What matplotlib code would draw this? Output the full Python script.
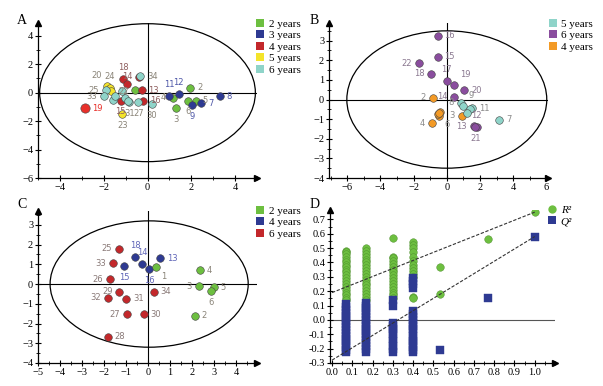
import matplotlib
matplotlib.use("Agg")
import matplotlib.pyplot as plt
from matplotlib.patches import Ellipse
from matplotlib.lines import Line2D
from matplotlib.ticker import MultipleLocator

# ---------------- DATA ----------------
COLORS = {"2 years": "#6dbf40", "3 years": "#2e3a92", "4 years": "#c3282b",
          "5 years": "#f4e42a", "6 years": "#8fd4c9"}
COLORS_B = {"5 years": "#8fd4c9", "6 years": "#8a4d9e", "4 years": "#f39a26"}
COLORS_C = {"2 years": "#6dbf40", "4 years": "#2e3a92", "6 years": "#c3282b"}

# Panel A
a_groups = ["2 years"]*6 + ["3 years"]*5 + ["4 years"]*7 + ["5 years"]*4 + ["6 years"]*11
a_ids = ["1", "2", "4", "3", "6", "5",
         "11", "12", "9", "7", "8",
         "14", "18", "17", "13", "16", "15", "19",
         "20", "24", "22", "23",
         "34", "25", "33", "28", "32", "29", "31", "27", "30", "21", "26"]
a_x = [-0.55, 1.95, 1.17, 1.29, 1.85, 2.20,
       0.98, 1.42, 2.05, 2.45, 3.29,
       -0.38, -1.10, -0.92, -0.27, -0.20, -1.23, -2.85,
       -1.85, -1.72, -1.66, -1.15,
       -0.32, -1.90, -1.98, -1.18, -1.56, -1.48, -0.83, -0.42, 0.20, -1.05, -0.90]
a_y = [0.21, 0.33, -0.36, -1.05, -0.55, -0.55,
       -0.26, -0.07, -0.86, -0.74, -0.26,
       1.12, 0.95, 0.64, 0.17, -0.55, -0.55, -1.10,
       0.50, 0.30, 0.10, -1.50,
       1.17, 0.17, -0.26, 0.12, -0.50, -0.26, -0.67, -0.67, -0.79, -0.35, -0.62]
a_pos = ["n", "r", "l", "b", "b", "r",
         "t", "t", "b", "r", "r",
         "l", "t", "n", "r", "r", "b", "r",
         "tl", "t", "r", "b",
         "r", "l", "l", "n", "n", "n", "b", "b", "b", "n", "n"]

# Panel B
b_groups = ["6 years"]*11 + ["4 years"]*7 + ["5 years"]*6
b_ids = ["16", "15", "22", "18", "17", "19", "20", "14", "13", "12", "21",
         "2", "3", "5", "1", "4", "6", "23",
         "8", "9", "11", "10", "24", "7"]
b_x = [-0.56, -0.56, -1.66, -0.94, 0.00, 0.46, 1.04, 0.46, 1.64, 1.80, 1.72,
       -0.84, 0.92, -0.40, -0.44, -0.92, -0.50, -0.45,
       0.84, 1.00, 1.52, 1.40, 1.20, 3.14]
b_y = [3.25, 2.17, 1.86, 1.32, 0.94, 0.75, 0.46, 0.15, -1.37, -1.38, -1.42,
       0.09, -0.82, -0.65, -0.82, -1.21, -0.75, -0.70,
       -0.17, -0.32, -0.44, -0.50, -0.68, -1.04]
b_pos = ["r", "r", "l", "l", "t", "tr", "r", "l", "l", "t", "b",
         "l", "l", "n", "n", "l", "br", "n",
         "l", "tr", "r", "n", "n", "r"]

# Panel C
c_groups = ["6 years"]*10 + ["4 years"]*5 + ["2 years"]*6
c_ids = ["25", "33", "26", "29", "32", "31", "27", "30", "34", "28",
         "18", "14", "15", "16", "13",
         "1", "4", "3", "5", "6", "2"]
c_x = [-1.33, -1.60, -1.74, -1.30, -1.83, -0.98, -0.97, -0.20, 0.26, -1.83,
       -0.58, -0.27, -1.08, 0.06, 0.53,
       0.35, 2.35, 2.32, 2.98, 2.86, 2.12]
c_y = [1.78, 1.05, 0.24, -0.39, -0.69, -0.75, -1.53, -1.54, -0.39, -2.68,
       1.39, 1.02, 0.92, 0.78, 1.31,
       0.88, 0.71, -0.10, -0.15, -0.36, -1.61]
c_pos = ["l", "l", "l", "l", "l", "r", "l", "r", "r", "r",
         "t", "t", "b", "b", "r",
         "br", "r", "l", "r", "b", "r"]

# Panel D (permutation test)
r2_x = [0.067]*20 + [0.167]*19 + [0.3]*17 + [0.4]*13 + [0.533]*2 + [0.767] + [1.0]
r2_y = [0.48, 0.47, 0.46, 0.44, 0.42, 0.40, 0.38, 0.37, 0.35, 0.33, 0.31, 0.29, 0.27, 0.25, 0.23, 0.21, 0.19, 0.17, 0.15, 0.14,
        0.50, 0.48, 0.46, 0.44, 0.42, 0.40, 0.38, 0.36, 0.34, 0.32, 0.30, 0.28, 0.26, 0.24, 0.22, 0.20, 0.18, 0.16, 0.14,
        0.57, 0.44, 0.43, 0.41, 0.39, 0.37, 0.35, 0.33, 0.31, 0.29, 0.27, 0.25, 0.23, 0.21, 0.19, 0.17, 0.15,
        0.54, 0.52, 0.50, 0.47, 0.44, 0.41, 0.38, 0.36, 0.34, 0.32, 0.30, 0.16, 0.15,
        0.37, 0.18, 0.56, 0.75]
q2_x = [0.067]*18 + [0.167]*18 + [0.3]*12 + [0.4]*19 + [0.533] + [0.767] + [1.0]
q2_y = [0.11, 0.09, 0.07, 0.05, 0.03, 0.01, -0.01, -0.03, -0.05, -0.07, -0.09, -0.11, -0.13, -0.15, -0.17, -0.19, -0.21, -0.22,
        0.12, 0.10, 0.08, 0.06, 0.04, 0.02, 0.00, -0.02, -0.04, -0.06, -0.08, -0.10, -0.12, -0.14, -0.16, -0.18, -0.20, -0.22,
        0.14, 0.10, -0.02, -0.04, -0.06, -0.08, -0.10, -0.13, -0.15, -0.18, -0.20, -0.22,
        0.29, 0.27, 0.25, 0.22, 0.06, 0.04, 0.02, 0.00, -0.02, -0.04, -0.06, -0.08, -0.11, -0.13, -0.15, -0.17, -0.19, -0.21, -0.22,
        -0.21, 0.15, 0.58]
r2_line = ([0.0, 1.0], [0.19, 0.75])
q2_line = ([0.0, 1.0], [-0.28, 0.58])

# ---------------- PLOT ----------------
SERIF = "Liberation Serif"
fig = plt.figure(figsize=(6.03, 3.86), dpi=100)
fig.patch.set_facecolor("white")

LABEL_COL = {"2 years": "#8a8478", "3 years": "#4f58a8", "4 years": "#8f6060",
             "5 years": "#8a8478", "6 years": "#8a8478"}
LABEL_COL_B = {"5 years": "#8a8a8a", "6 years": "#8a7890", "4 years": "#8a8a8a"}
LABEL_COL_C = {"2 years": "#8a8478", "4 years": "#6066b8", "6 years": "#8a7a78"}

OFF = {"r": (5, 0, "left", "center"), "l": (-5, 0, "right", "center"),
       "t": (0, 5, "center", "bottom"), "b": (0, -5, "center", "top"),
       "tl": (-4, 4, "right", "bottom"), "tr": (4, 4, "left", "bottom"),
       "br": (4, -4, "left", "top")}


def style_axes(ax, xlim, ylim, xmaj, xmin, ymaj, ymin):
    ax.set_xlim(*xlim)
    ax.set_ylim(*ylim)
    for s in ["top", "right"]:
        ax.spines[s].set_visible(False)
    for s in ["left", "bottom"]:
        ax.spines[s].set_linewidth(0.9)
    ax.xaxis.set_major_locator(MultipleLocator(xmaj))
    ax.xaxis.set_minor_locator(MultipleLocator(xmin))
    ax.yaxis.set_major_locator(MultipleLocator(ymaj))
    ax.yaxis.set_minor_locator(MultipleLocator(ymin))
    ax.tick_params(which="major", direction="inout", length=5, width=0.8,
                   labelsize=7.5, pad=1)
    ax.tick_params(which="minor", direction="inout", length=3, width=0.6)
    for lab in ax.get_xticklabels() + ax.get_yticklabels():
        lab.set_fontfamily(SERIF)
    ax.plot(1, 0, ">", color="black", ms=5, transform=ax.transAxes, clip_on=False)
    ax.plot(0, 1, "^", color="black", ms=5, transform=ax.transAxes, clip_on=False)
    ax.patch.set_alpha(0)


def scatter_panel(ax, groups, ids, xs, ys, pos, cmap, lcmap, special=None):
    for g, i, x, y, p in zip(groups, ids, xs, ys, pos):
        col = cmap[g]
        size = 30
        lc = lcmap[g]
        if special and i in special:
            col, size, lc = special[i], 45, special[i]
        ax.scatter([x], [y], s=size, color=col, edgecolor="#444444",
                   linewidth=0.4, zorder=3)
        if p != "n":
            dx, dy, ha, va = OFF[p]
            ax.annotate(i, (x, y), xytext=(dx, dy), textcoords="offset points",
                        ha=ha, va=va, fontsize=6, color=lc,
                        family="DejaVu Sans", zorder=4)


def legend_at(handles_labels, x, y, italic=False):
    handles = []
    labels = []
    for marker, col, lab in handles_labels:
        handles.append(Line2D([], [], marker=marker, color=col, linestyle="none",
                              markersize=6, markeredgewidth=0))
        labels.append(lab)
    leg = fig.legend(handles, labels, loc="upper left", bbox_to_anchor=(x, y),
                     frameon=False, borderpad=0, borderaxespad=0,
                     handlelength=0.8, handletextpad=0.4, labelspacing=0.15,
                     prop={"family": SERIF, "size": 8,
                           "style": "italic" if italic else "normal"})
    return leg


# ---- Panel A
axA = fig.add_axes([38/603, (386-178)/386, 219/603, 155/386])
style_axes(axA, (-5, 5.0), (-6, 4.9), 2, 1, 2, 1)
axA.axhline(0, color="black", lw=0.8, zorder=1)
axA.axvline(0, color="black", lw=0.8, zorder=1)
axA.add_patch(Ellipse((0, 0), 9.85, 9.7, fill=False, lw=0.9, color="black"))
scatter_panel(axA, a_groups, a_ids, a_x, a_y, a_pos, COLORS, LABEL_COL,
              special={"19": "#e8302a"})
legend_at([("s", COLORS[k], k) for k in COLORS], 0.424, 1-19/386)
fig.text(17/603, 1-20/386, "A", family=SERIF, fontsize=10, va="center")

# ---- Panel B
axB = fig.add_axes([329/603, (386-178)/386, 219/603, 155/386])
style_axes(axB, (-7.1, 6.1), (-4, 3.9), 2, 1, 1, 0.5)
axB.axhline(0, color="black", lw=0.8, zorder=1)
axB.axvline(0, color="black", lw=0.8, zorder=1)
axB.add_patch(Ellipse((0, 0), 12.05, 7.0, fill=False, lw=0.9, color="black"))
scatter_panel(axB, b_groups, b_ids, b_x, b_y, b_pos, COLORS_B, LABEL_COL_B)
legend_at([("s", COLORS_B[k], k) for k in COLORS_B], 0.909, 1-19/386)
fig.text(310/603, 1-20/386, "B", family=SERIF, fontsize=10, va="center")

# ---- Panel C
axC = fig.add_axes([38/603, (386-363)/386, 219/603, 152/386])
style_axes(axC, (-5, 4.95), (-4, 3.7), 1, 0.5, 1, 0.5)
axC.axhline(0, color="black", lw=0.8, zorder=1)
axC.axvline(0, color="black", lw=0.8, zorder=1)
axC.add_patch(Ellipse((0.05, 0), 9.0, 6.4, fill=False, lw=0.9, color="black"))
scatter_panel(axC, c_groups, c_ids, c_x, c_y, c_pos, COLORS_C, LABEL_COL_C)
legend_at([("s", COLORS_C[k], k) for k in COLORS_C], 0.424, 1-206/386)
fig.text(17/603, 1-205/386, "C", family=SERIF, fontsize=10, va="center")

# ---- Panel D
axD = fig.add_axes([330/603, (386-363)/386, 225/603, 153/386])
style_axes(axD, (-0.01, 1.1), (-0.3, 0.765), 0.1, 0.05, 0.1, 0.05)
axD.xaxis.set_major_formatter(matplotlib.ticker.FormatStrFormatter("%.1f"))
axD.yaxis.set_major_formatter(matplotlib.ticker.FormatStrFormatter("%.1f"))
axD.set_xticks([0.0, 0.1, 0.2, 0.3, 0.4, 0.5, 0.6, 0.7, 0.8, 0.9, 1.0])
for lab in axD.get_xticklabels() + axD.get_yticklabels():
    lab.set_fontfamily(SERIF)
axD.axhline(0, color="#555555", lw=0.8, zorder=1)
axD.scatter(r2_x, r2_y, s=30, marker="o", color="#6dbf40", edgecolor="#4a8a2a",
            linewidth=0.3, zorder=3)
axD.scatter(q2_x, q2_y, s=30, marker="s", color="#2e3a92", edgecolor="#2e3a92",
            linewidth=0.3, zorder=3)
axD.plot(*r2_line, ls=(0, (3, 1.5)), color="#333333", lw=0.8, zorder=4)
axD.plot(*q2_line, ls=(0, (3, 1.5)), color="#333333", lw=0.8, zorder=4)
legend_at([("o", "#6dbf40", "R²"), ("s", "#2e3a92", "Q²")], 0.908, 1-205/386,
          italic=True)
fig.text(310/603, 1-205/386, "D", family=SERIF, fontsize=10, va="center")

fig.savefig("out.png", dpi=100)
